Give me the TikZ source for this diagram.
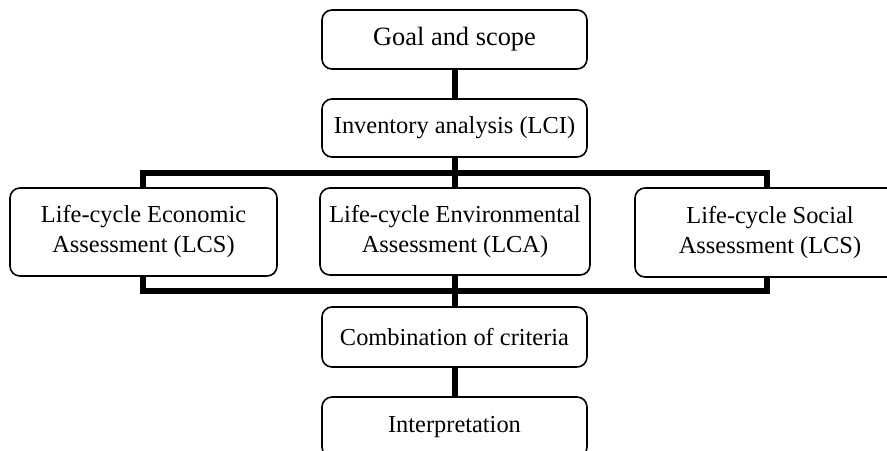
\documentclass[tikz,border=0pt]{standalone}
\usepackage{fontspec}
\setmainfont{Liberation Serif}
\usetikzlibrary{backgrounds}
\begin{document}
\begin{tikzpicture}[x=0.5pt,y=-0.5pt,
  stage/.style={draw=black, line width=0.8pt, rounded corners=5pt, fill=white,
    inner sep=0pt, align=center, font=\fontsize{12.2}{15}\selectfont},
  link/.style={line width=3pt, line join=miter}]
\clip (0,0) rectangle (887,450);
\useasboundingbox (0,0) rectangle (887,450);

% stages of the assessment
\node[stage, minimum width=132.5pt, minimum height=29.5pt,
  font=\fontsize{13.2}{15}\selectfont] (goal) at (454.5,39.5) {Goal and scope};
\node[stage, minimum width=132.5pt, minimum height=29pt] (inv) at (454.5,128) {Inventory analysis (LCI)};
\node[stage, minimum width=133.5pt, minimum height=44pt] (eco) at (143.5,232) {Life-cycle Economic\\Assessment (LCS)};
\node[stage, minimum width=135pt, minimum height=43.5pt] (env) at (455,231.5) {Life-cycle Environmental\\Assessment (LCA)};
\node[stage, minimum width=135pt, minimum height=44.5pt] (soc) at (770,232.5) {Life-cycle Social\\Assessment (LCS)};
\node[stage, minimum width=132.5pt, minimum height=30pt] (comb) at (454.5,337) {Combination of criteria};
\node[stage, minimum width=132.5pt, minimum height=30pt] (interp) at (454.5,427) {Interpretation};

% corners of the frame joining the three assessments
\coordinate (railtl) at (143,173);
\coordinate (railbr) at (767,291);

\begin{scope}[on background layer]
  \draw[link] (railtl) rectangle (railbr);
  \draw[link] (goal.south) -- (inv.north);
  \draw[link] (inv.south) -- (comb.north);
  \draw[link] (comb.south) -- (interp.north);
\end{scope}
\end{tikzpicture}
\end{document}
